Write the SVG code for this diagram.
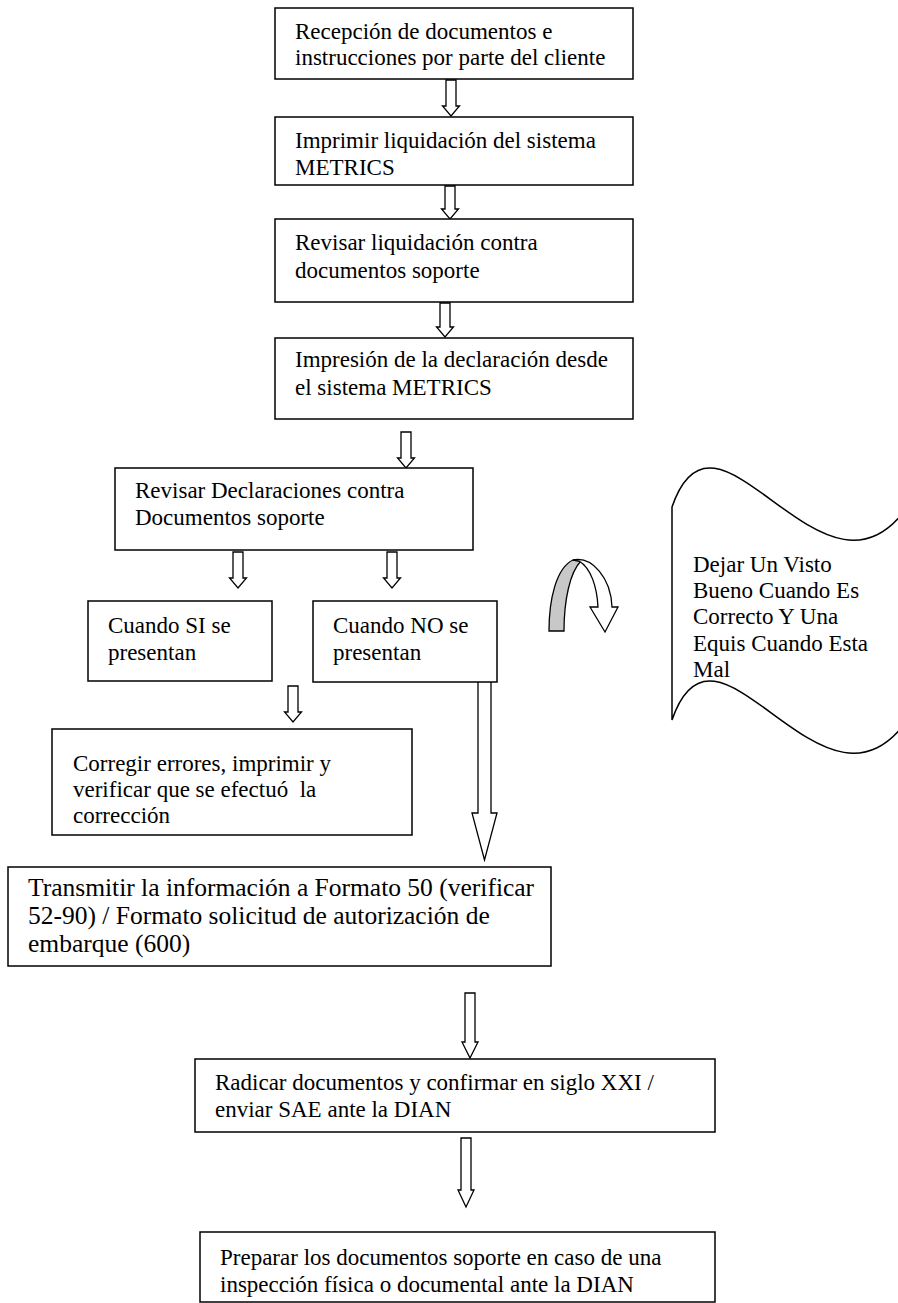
<svg xmlns="http://www.w3.org/2000/svg" width="898" height="1303" viewBox="0 0 898 1303">
<style>
.box{fill:#fff;stroke:#000;stroke-width:1.5}
.arr{fill:#fff;stroke:#000;stroke-width:1.3;stroke-linejoin:miter}
text{font-family:"Liberation Serif","Times New Roman",serif;font-size:23px;fill:#000}
.big{font-size:25.5px}
</style>
<rect width="898" height="1303" fill="#fff"/>
<g id="connectors">
<path class="arr" d="M446,80 L456,80 L456,106 L459.5,106 L451,116 L442.5,106 L446,106 Z"/>
<path class="arr" d="M445,186 L455,186 L455,209 L458.5,209 L450,219 L441.5,209 L445,209 Z"/>
<path class="arr" d="M440,303 L450,303 L450,327 L453.5,327 L445,337 L436.5,327 L440,327 Z"/>
<path class="arr" d="M401,432 L411,432 L411,458 L414.5,458 L406,468 L397.5,458 L401,458 Z"/>
<path class="arr" d="M233,552 L243,552 L243,578 L246.5,578 L238,588 L229.5,578 L233,578 Z"/>
<path class="arr" d="M387,552 L397,552 L397,578 L400.5,578 L392,588 L383.5,578 L387,578 Z"/>
<path class="arr" d="M288,686 L298,686 L298,712 L301.5,712 L293,722 L284.5,712 L288,712 Z"/>
<path class="arr" d="M478,669 L491,669 L491,813 L497,813 L484.5,860 L472,813 L478,813 Z"/>
<path class="arr" d="M465,993 L475,993 L475,1042 L478,1042 L470,1058 L462,1042 L465,1042 Z"/>
<path class="arr" d="M461,1138 L471,1138 L471,1190 L474,1190 L466,1207 L458,1190 L461,1190 Z"/>
<g id="curved-arrow">
<path d="M549,631 C549,600 556,568 573,560 L581,561 C570,572 564,600 564,631 Z" fill="#c8c8c8" stroke="#000" stroke-width="1.3"/>
<path d="M573,560 C592,556 611,578 612,607 L618,607 L605,632 L590,607 L598,607 C597,587 591,568 579,561 Z" fill="#fff" stroke="#000" stroke-width="1.3"/>
</g>
</g>
<g id="n1"><rect class="box" x="275" y="8" width="358" height="71"/>
<text x="295" y="39">Recepción de documentos e</text><text x="295" y="65">instrucciones por parte del cliente</text></g>
<g id="n2"><rect class="box" x="275" y="117" width="358" height="68"/>
<text x="295" y="148">Imprimir liquidación del sistema</text><text x="295" y="175">METRICS</text></g>
<g id="n3"><rect class="box" x="275" y="219" width="358" height="83"/>
<text x="295" y="250">Revisar liquidación contra</text><text x="295" y="278">documentos soporte</text></g>
<g id="n4"><rect class="box" x="275" y="338" width="358" height="81"/>
<text x="295" y="367">Impresión de la declaración desde</text><text x="295" y="395">el sistema METRICS</text></g>
<g id="n5"><rect class="box" x="115" y="468" width="358" height="82"/>
<text x="135" y="498">Revisar Declaraciones contra</text><text x="135" y="525">Documentos soporte</text></g>
<g id="n6"><rect class="box" x="88" y="601" width="184" height="80"/>
<text x="108" y="633">Cuando SI se</text><text x="108" y="660">presentan</text></g>
<g id="n7"><rect class="box" x="313" y="601" width="184" height="81"/>
<text x="333" y="633">Cuando NO se</text><text x="333" y="660">presentan</text></g>
<g id="n8"><path d="M672,507 C718,372 830,642 915,495 L915,708 C830,855 718,585 672,720 Z" fill="#fff" stroke="#000" stroke-width="1.5"/>
<text x="693" y="572">Dejar Un Visto</text><text x="693" y="598">Bueno Cuando Es</text><text x="693" y="624">Correcto Y Una</text><text x="693" y="651">Equis Cuando Esta</text><text x="693" y="677">Mal</text></g>
<g id="n9"><rect class="box" x="52" y="729" width="360" height="106"/>
<text x="73" y="771">Corregir errores, imprimir y</text><text x="73" y="797">verificar que se efectuó&#160; la</text><text x="73" y="823">corrección</text></g>
<g id="n10"><rect class="box" x="8" y="867" width="543" height="99"/>
<text class="big" x="28" y="896">Transmitir la información a Formato 50 (verificar</text><text class="big" x="28" y="924">52-90) / Formato solicitud de autorización de</text><text class="big" x="28" y="952">embarque (600)</text></g>
<g id="n11"><rect class="box" x="195" y="1059" width="520" height="73"/>
<text x="215" y="1090">Radicar documentos y confirmar en siglo XXI /</text><text x="215" y="1117">enviar SAE ante la DIAN</text></g>
<g id="n12"><rect class="box" x="200" y="1232" width="515" height="70"/>
<text x="220" y="1265">Preparar los documentos soporte en caso de una</text><text x="220" y="1292">inspección física o documental ante la DIAN</text></g>
</svg>
